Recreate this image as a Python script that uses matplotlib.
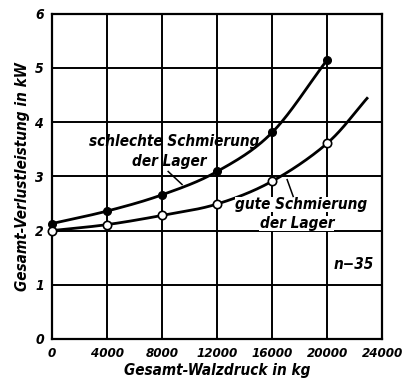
import numpy as np
import matplotlib
matplotlib.use("Agg")
import matplotlib.pyplot as plt

# Measured data: total roll pressure (kg) vs. total power loss (kW)
walzdruck = [0, 4000, 8000, 12000, 16000, 20000]
schlecht = [2.13, 2.36, 2.66, 3.09, 3.81, 5.15]
gut = [2.0, 2.11, 2.28, 2.49, 2.91, 3.61]
# the curve for good lubrication is drawn on past the last measurement
gut_ende_x = 22900
gut_ende_y = 4.44

x_ticks = [0, 4000, 8000, 12000, 16000, 20000, 24000]
x_ticklabels = ["0", "4000", "8000", "12000", "16000", "20000", "24000"]
y_ticks = [0, 1, 2, 3, 4, 5, 6]


def catmull_rom(xs, ys, n=40):
    xs = np.asarray(xs, float)
    ys = np.asarray(ys, float)
    px = np.concatenate([[2 * xs[0] - xs[1]], xs, [2 * xs[-1] - xs[-2]]])
    py = np.concatenate([[2 * ys[0] - ys[1]], ys, [2 * ys[-1] - ys[-2]]])
    outx, outy = [], []
    for i in range(1, len(px) - 2):
        t = np.linspace(0, 1, n, endpoint=False)
        for p, out in ((px, outx), (py, outy)):
            p0, p1, p2, p3 = p[i - 1], p[i], p[i + 1], p[i + 2]
            out.extend(0.5 * ((2 * p1) + (-p0 + p2) * t
                              + (2 * p0 - 5 * p1 + 4 * p2 - p3) * t ** 2
                              + (-p0 + 3 * p1 - 3 * p2 + p3) * t ** 3))
    outx.append(xs[-1])
    outy.append(ys[-1])
    return np.array(outx), np.array(outy)


font = dict(family="DejaVu Sans", stretch="condensed",
            style="italic", weight="bold")
white = dict(facecolor="white", edgecolor="none", pad=0.2)

fig = plt.figure(figsize=(4.07, 3.83), dpi=100)
ax = fig.add_axes([0.128, 0.115, 0.811, 0.849])
ax.set_xlim(0, 24000)
ax.set_ylim(0, 6)

ax.set_xticks(x_ticks)
ax.set_yticks(y_ticks)
ax.set_xticklabels(x_ticklabels, **font, fontsize=9.5)
ax.set_yticklabels([str(v) for v in y_ticks], **font, fontsize=10)
ax.tick_params(axis="x", length=0, pad=6)
ax.tick_params(axis="y", length=0, pad=6)
ax.grid(True, color="black", linewidth=1.4)
for s in ax.spines.values():
    s.set_linewidth(1.6)

# curves
cx, cy = catmull_rom(walzdruck, schlecht)
ax.plot(cx, cy, color="black", lw=2.0, zorder=3)
cx, cy = catmull_rom(walzdruck + [gut_ende_x], gut + [gut_ende_y])
ax.plot(cx, cy, color="black", lw=2.0, zorder=3)

ax.plot(walzdruck, schlecht, "o", ms=5.5, color="black", zorder=4, clip_on=False)
ax.plot(walzdruck, gut, "o", ms=6, mfc="white", mec="black", mew=1.2,
        zorder=4, clip_on=False)

# annotations
ax.text(8870, 3.65, "schlechte Schmierung", ha="center", va="center",
        fontsize=11, **font, zorder=5)
ax.text(8500, 3.28, "der Lager", ha="center", va="center",
        fontsize=11, **font, zorder=5)
ax.plot([8440, 9450], [3.09, 2.85], color="black", lw=1.1, zorder=5)

ax.text(18100, 2.48, "gute Schmierung", ha="center", va="center",
        fontsize=11, **font, zorder=5, bbox=white)
ax.text(17800, 2.13, "der Lager", ha="center", va="center",
        fontsize=11, **font, zorder=5, bbox=white)
ax.plot([17090, 17530], [2.94, 2.63], color="black", lw=1.1, zorder=5)

ax.text(21900, 1.37, "n\u221235", ha="center", va="center",
        fontsize=11, **font, zorder=5, bbox=white)

ax.set_xlabel("Gesamt-Walzdruck in kg", fontsize=11, labelpad=2, **font)
ax.set_ylabel("Gesamt-Verlustleistung in kW", fontsize=11, labelpad=4, **font)

fig.savefig("out.png", dpi=100)
